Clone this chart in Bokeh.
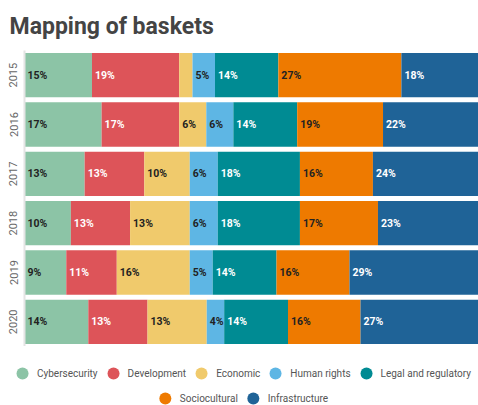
from bokeh.plotting import figure
from bokeh.layouts import column
from bokeh.models import ColumnDataSource, FactorRange, Range1d, Legend, LegendItem
from bokeh.embed import file_html
from bokeh.resources import INLINE
from bokeh.core.properties import value

# ---- data (percent share of each basket per year) ----
years = ["2015", "2016", "2017", "2018", "2019", "2020"]
series = ["Cybersecurity", "Development", "Economic", "Human rights",
          "Legal and regulatory", "Sociocultural", "Infrastructure"]
cybersecurity = [14.7, 16.8, 13.1, 10.1, 9.1, 13.9]
development = [19.0, 16.9, 13.0, 12.9, 11.0, 12.9]
economic = [2.9, 5.9, 9.9, 13.0, 15.9, 12.9]
human_rights = [4.9, 5.9, 6.1, 6.1, 5.0, 3.8]
legal = [13.8, 13.9, 17.9, 17.9, 13.9, 13.9]
sociocultural = [26.8, 18.7, 15.9, 17.0, 15.9, 15.8]
infrastructure = [17.9, 21.9, 24.1, 23.0, 29.2, 26.8]
title_text = "Mapping of baskets"

# ---- styles ----
colors = ["#8cc4a6", "#dd5459", "#f0ca6c", "#5eb6e4", "#008b93", "#ee7a00", "#1f6397"]
text_colors = ["#222222", "#ffffff", "#222222", "#222222", "#ffffff", "#222222", "#ffffff"]

values = [cybersecurity, development, economic, human_rights, legal, sociocultural, infrastructure]
data = {"year": years}
for s, v in zip(series, values):
    data[s] = v
source = ColumnDataSource(data)

p = figure(width=478, height=346,
           y_range=FactorRange(factors=years[::-1]),
           x_range=Range1d(0, 98.9),
           output_backend="svg", toolbar_location=None,
           x_axis_location=None, title=title_text,
           min_border_left=24, min_border_right=0,
           min_border_top=0, min_border_bottom=0)
p.background_fill_color = "white"
p.border_fill_color = "white"
p.outline_line_color = None
p.xgrid.visible = False
p.ygrid.visible = False

p.title.text_font = "Roboto"
p.title.text_font_size = "23px"
p.title.text_font_style = "bold"
p.title.text_color = "#444444"
p.title.offset = -15
p.title.standoff = 21

p.hbar_stack(series, y="year", height=0.9, color=colors, source=source, line_width=0)

# labels inside bars
lx, ly, lt, lc = [], [], [], []
starts = {s: [] for s in series}
for i, y in enumerate(years):
    start = 0.0
    for s, v, tc in zip(series, values, text_colors):
        val = v[i]
        starts[s].append(start)
        if val >= 3.5:
            lx.append(start)
            ly.append(y)
            lt.append(f"{val:.0f}%")
            lc.append(tc)
        start += val
lab_src = ColumnDataSource(dict(x=lx, y=ly, t=lt, c=lc))
p.text(x="x", y="y", text="t", text_color="c", source=lab_src, x_offset=3,
       text_baseline="middle", text_align="left", text_font=value("Roboto"),
       text_font_size="10.5px", text_font_style="bold")

# y axis
ax = p.yaxis[0]
ax.major_tick_line_color = None
ax.minor_tick_line_color = None
ax.axis_line_color = "#e4e4e4"
ax.axis_line_width = 2
ax.major_label_orientation = "vertical"
ax.major_label_text_font = "Roboto"
ax.major_label_text_font_size = "11px"
ax.major_label_text_color = "#666666"
ax.major_label_standoff = 1

# legend figure (two centered rows)
lf = figure(width=478, height=59, output_backend="svg", toolbar_location=None,
            x_axis_location=None, y_axis_location=None,
            y_range=FactorRange(factors=years[::-1]), x_range=Range1d(0, 98.9),
            min_border_left=0, min_border_right=0, min_border_top=0, min_border_bottom=0)
lf.outline_line_color = None
lf.xgrid.visible = False
lf.ygrid.visible = False

items = []
for s, c in zip(series, colors):
    r = lf.scatter(x=starts[s], y=years, size=12, fill_color=c, line_color=None, visible=False)
    items.append(LegendItem(label=s, renderers=[r]))


def make_legend(its, m):
    return Legend(items=its, orientation="horizontal", location="top_center",
                  glyph_width=30, glyph_height=30, label_standoff=0, spacing=-1,
                  padding=0, margin=m, border_line_color=None,
                  background_fill_alpha=0, label_text_font="Roboto",
                  label_text_font_size="10px", label_text_color="#555555")


lf.add_layout(make_legend(items[:5], 12), "center")
lf.add_layout(make_legend(items[5:], 37), "center")

layout = column(column(p), column(lf), spacing=0)
open("out.html", "w").write(file_html(layout, INLINE))
